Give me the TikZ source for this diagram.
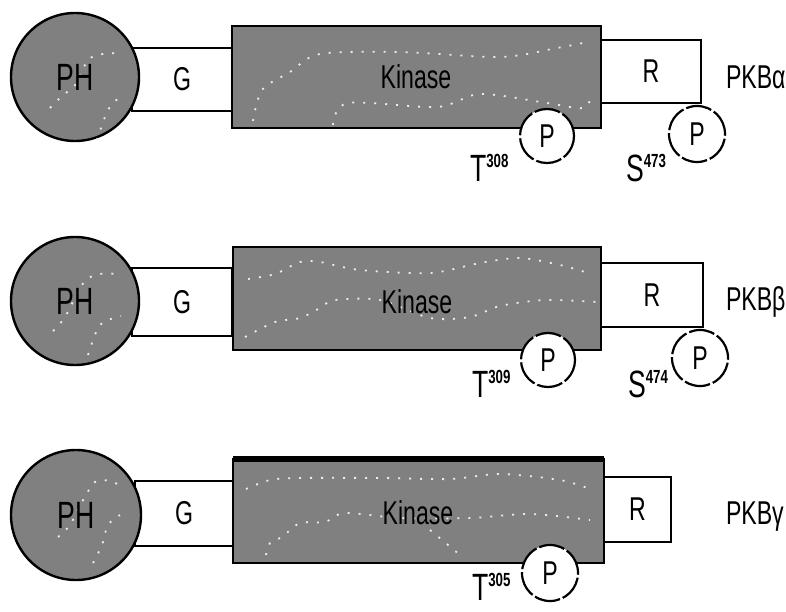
\documentclass[tikz,border=0pt]{standalone}
\usepackage{fontspec}
\setmainfont{Liberation Sans}[FakeStretch=0.7]
\begin{document}
\begin{tikzpicture}[x=1pt,y=-1pt,
  every node/.style={inner sep=0pt,outer sep=0pt},
  dom/.style={draw=black,line width=2.6pt,minimum width=#1},
  phdom/.style={draw=black,line width=2.4pt,circle,fill=gray50,minimum size=#1,font=\fontsize{38}{38}\selectfont},
  kdom/.style={dom=#1,fill=gray50,font=\fontsize{33}{33}\selectfont},
  wdom/.style={dom=#1,fill=white,font=\fontsize{33}{33}\selectfont},
  pcirc/.style={draw=black,line width=2.2pt,circle,fill=white,minimum size=#1,dash pattern=on 26pt off 3pt,font=\fontsize{33}{33}\selectfont},
  site/.style={anchor=base west,font=\fontsize{38}{38}\selectfont},
  iso/.style={anchor=west,font=\fontsize{33}{33}\selectfont},
  dots/.style={white!85!gray,line width=1.8pt,dash pattern=on 2pt off 9pt}
]
\definecolor{gray50}{RGB}{128,128,128}
\newcommand{\supnum}[1]{\raisebox{14pt}{\fontsize{19}{19}\selectfont\bfseries #1}}
\useasboundingbox (0,0) rectangle (786,612);
\fill[white] (0,0) rectangle (786,612);

% ---------------- Row 1: PKB alpha ----------------
\node[wdom=100pt,minimum height=63pt] (g1) at (182,79.5) {G};
\node[phdom=128pt] (ph1) at (75,77) {};
\draw[dots] plot[smooth] coordinates {(50,108) (62,96) (76,84) (88,60) (103,54) (122,53)};
\draw[dots] plot[smooth] coordinates {(97,140) (108,110) (122,95)};
\node at (ph1) [font=\fontsize{38}{38}\selectfont] {PH};
\node[wdom=100pt,minimum height=63pt] (r1) at (651,71.5) {R};
\node[kdom=369pt,minimum height=102pt] (k1) at (416.5,77) {};
\draw[dots] plot[smooth] coordinates {(253,121) (262,90) (290,72) (320,54) (400,52) (500,57) (557,48) (588,42)};
\draw[dots] plot[smooth] coordinates {(333,125) (348,103) (437,107) (480,94) (547,103) (583,108) (592,95)};
\node at (416,77) {\fontsize{33}{33}\selectfont Kinase};
\node[pcirc=54pt] (p1a) at (547,136) {P};
\node[pcirc=56pt] (p1b) at (697,134) {P};
\node[site] (t1) at (470,182) {T\supnum{308}};
\node[site] (s1) at (626,182) {S\supnum{473}};
\node[iso] (n1) at (726,77) {PKBα};

% ---------------- Row 2: PKB beta ----------------
\node[wdom=100pt,minimum height=68pt] (g2) at (182,302) {G};
\node[phdom=128pt] (ph2) at (75,301) {};
\draw[dots] plot[smooth] coordinates {(53,331) (65,317) (84,282) (100,274) (118,274)};
\draw[dots] plot[smooth] coordinates {(88,355) (100,325) (121,316)};
\node at (ph2) [font=\fontsize{38}{38}\selectfont] {PH};
\node[wdom=102pt,minimum height=64pt] (r2) at (652,295) {R};
\node[kdom=368pt,minimum height=103pt] (k2) at (417,298.5) {};
\draw[dots] plot[smooth] coordinates {(248,279) (275,274) (300,262) (320,262) (360,270) (430,273) (480,263) (520,258) (560,265) (585,272)};
\draw[dots] plot[smooth] coordinates {(245,337) (275,322) (300,318) (320,308) (335,300) (380,300) (430,318) (470,317) (500,306) (545,300) (597,302)};
\node at (417,302) {\fontsize{33}{33}\selectfont Kinase};
\node[pcirc=54pt] (p2a) at (548,360) {P};
\node[pcirc=56pt] (p2b) at (700,358) {P};
\node[site] (t2) at (472,397) {T\supnum{309}};
\node[site] (s2) at (628,397) {S\supnum{474}};
\node[iso] (n2) at (726,302) {PKBβ};

% ---------------- Row 3: PKB gamma ----------------
\node[wdom=98pt,minimum height=65pt] (g3) at (184,513.5) {G};
\node[phdom=130pt] (ph3) at (76,515) {};
\draw[dots] plot[smooth] coordinates {(58,537) (70,525) (82,502) (95,482) (110,481) (125,488)};
\draw[dots] plot[smooth] coordinates {(93,563) (102,545) (108,525) (120,515)};
\node at (ph3) [font=\fontsize{38}{38}\selectfont] {PH};
\node[wdom=67pt,minimum height=65pt] (r3) at (637.5,509.5) {R};
\node[kdom=371pt,minimum height=104pt] (k3) at (418.5,511) {};
\draw[line width=6pt] (k3.north west) -- (k3.north east);
\draw[dots] plot[smooth] coordinates {(246,489) (270,480) (300,478) (380,478) (450,479) (500,474) (560,480) (590,489)};
\draw[dots] plot[smooth] coordinates {(266,555) (270,543) (282,537) (300,523) (325,522) (345,513) (400,518) (470,518) (530,514) (590,520)};
\draw[dots] plot[smooth] coordinates {(430,530) (460,555)};
\node at (418,513) {\fontsize{33}{33}\selectfont Kinase};
\node[pcirc=56pt] (p3a) at (550,573) {P};
\node[site] (t3) at (472,600) {T\supnum{305}};
\node[iso] (n3) at (726,517) {PKBγ};
\end{tikzpicture}
\end{document}
